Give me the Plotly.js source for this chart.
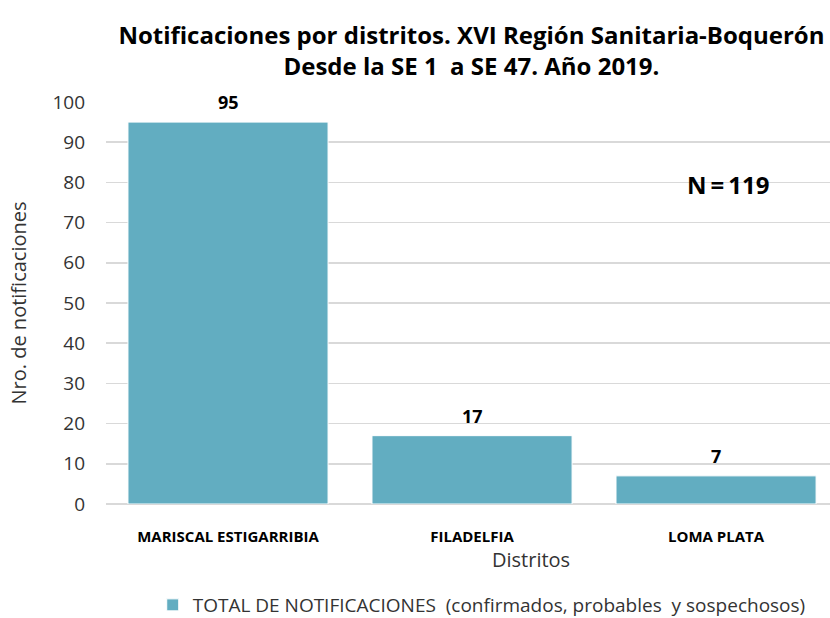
<!DOCTYPE html>
<html>
<head>
<meta charset="utf-8">
<script src="https://cdn.plot.ly/plotly-3.0.1.min.js"></script>
<style>html,body{margin:0;padding:0;background:#fff;}#chart{width:830px;height:618px;}</style>
</head>
<body>
<div id="chart"></div>
<script>
const districts = ["MARISCAL ESTIGARRIBIA", "FILADELFIA", "LOMA PLATA"];
const notifications = [95, 17, 7];
const seriesName = "TOTAL DE NOTIFICACIONES  (confirmados, probables  y sospechosos)";
const yTicks = [0, 10, 20, 30, 40, 50, 60, 70, 80, 90, 100];
const totalLabel = "N\u2009=\u2009119";

const FONT = "Open Sans, Noto Sans, sans-serif";

const trace = {
  type: "bar",
  x: districts,
  y: notifications,
  name: seriesName,
  marker: {color: "#62adc1", line: {color: "#ffffff", width: 1}},
  hoverinfo: "x+y",
  showlegend: true
};

const valueLabels = districts.map((d, i) => ({
  text: "<b>" + notifications[i] + "</b>",
  x: d, y: notifications[i], xref: "x", yref: "y",
  yshift: 20, yanchor: "middle", xanchor: "center",
  showarrow: false,
  font: {family: FONT, size: 18, color: "#000000"}
}));

const layout = {
  width: 830, height: 618,
  margin: {l: 106, r: 0, t: 102, b: 114},
  paper_bgcolor: "#ffffff", plot_bgcolor: "#ffffff",
  font: {family: FONT, color: "#333333"},
  title: {
    text: "<b>Notificaciones por distritos. XVI Región Sanitaria-Boquerón</b><br><b>Desde la SE 1  a SE 47. Año 2019.</b>",
    font: {family: FONT, size: 24, color: "#000000"},
    x: 0.568, xanchor: "center", xref: "container",
    y: 0.929, yanchor: "middle", yref: "container"
  },
  bargap: 0.18,
  xaxis: {
    range: [-0.5, 2.467],
    showgrid: false, zeroline: false, showline: false,
    ticks: "",
    ticklabelstandoff: 22,
    tickfont: {family: FONT, size: 15, color: "#000000", weight: "bold"},
    fixedrange: true
  },
  yaxis: {
    range: [0, 100],
    tickvals: yTicks,
    showgrid: true, gridcolor: "#d9d9d9", gridwidth: 1.5,
    zeroline: true, zerolinecolor: "#d9d9d9", zerolinewidth: 1.5,
    showline: false, ticks: "",
    ticklabelstandoff: 20,
    tickfont: {family: FONT, size: 19, color: "#333333"},
    title: {text: "Nro. de notificaciones", font: {family: FONT, size: 20, color: "#333333"}, standoff: 20},
    fixedrange: true
  },
  legend: {
    orientation: "h",
    xref: "container", yref: "container",
    x: 0.184, xanchor: "left",
    y: 0.021, yanchor: "middle",
    font: {family: FONT, size: 19, color: "#333333"},
    itemwidth: 30
  },
  annotations: valueLabels.concat([
    {text: "Distritos", xref: "paper", yref: "paper", x: 0.587, y: -0.139, xanchor: "center", yanchor: "middle",
     showarrow: false, font: {family: FONT, size: 20, color: "#333333"}},
    {text: "<b>" + totalLabel + "</b>", xref: "paper", yref: "paper", x: 0.859, y: 0.794, xanchor: "center", yanchor: "middle",
     showarrow: false, font: {family: FONT, size: 24, color: "#000000"}}
  ])
};

Plotly.newPlot("chart", [trace], layout, {displayModeBar: false, staticPlot: true});
</script>
</body>
</html>
